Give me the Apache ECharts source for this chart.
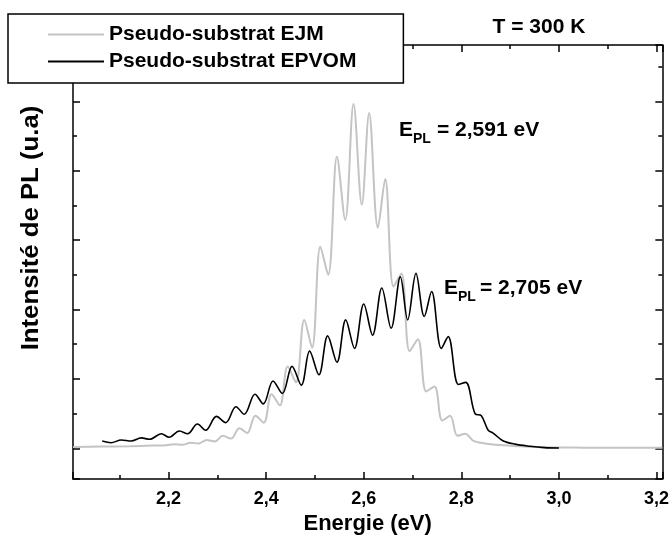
<!DOCTYPE html>
<html><head><meta charset="utf-8">
<script src="https://cdn.jsdelivr.net/npm/echarts@6/dist/echarts.min.js"></script>
<style>html,body{margin:0;padding:0;background:#fff}#c{width:672px;height:540px}</style>
</head><body><div id="c"></div>
<script>
const seriesNames = ['Pseudo-substrat EJM', 'Pseudo-substrat EPVOM'];
const ejmEnergy = [2.004, 2.06, 2.12, 2.17, 2.195, 2.211, 2.228, 2.245, 2.261, 2.278, 2.295, 2.311, 2.328, 2.345, 2.361, 2.378, 2.395, 2.411, 2.428, 2.444, 2.461, 2.478, 2.494, 2.511, 2.527, 2.545, 2.562, 2.579, 2.596, 2.611, 2.629, 2.644, 2.661, 2.677, 2.694, 2.711, 2.728, 2.745, 2.761, 2.777, 2.792, 2.808, 2.824, 2.84, 2.87, 2.92, 2.97, 3.05, 3.13, 3.212];
const ejmIntensity = [0.02, 0.025, 0.03, 0.04, 0.045, 0.06, 0.05, 0.08, 0.07, 0.12, 0.10, 0.18, 0.14, 0.29, 0.22, 0.47, 0.37, 0.78, 0.62, 1.18, 0.95, 1.85, 1.45, 2.905, 2.50, 4.20, 3.29, 4.96, 3.51, 4.83, 3.18, 3.88, 2.33, 2.52, 1.40, 1.57, 0.82, 0.89, 0.40, 0.47, 0.18, 0.21, 0.11, 0.08, 0.05, 0.03, 0.015, 0.01, 0.008, 0.008];
const epvomEnergy = [2.064, 2.082, 2.103, 2.123, 2.144, 2.161, 2.185, 2.201, 2.222, 2.239, 2.259, 2.276, 2.298, 2.317, 2.338, 2.355, 2.377, 2.394, 2.414, 2.433, 2.453, 2.472, 2.489, 2.508, 2.526, 2.545, 2.563, 2.581, 2.600, 2.618, 2.637, 2.656, 2.675, 2.690, 2.707, 2.724, 2.739, 2.759, 2.773, 2.794, 2.809, 2.828, 2.841, 2.855, 2.865, 2.885, 2.91, 2.94, 2.97, 3.0];
const epvomIntensity = [0.105, 0.08, 0.12, 0.105, 0.15, 0.13, 0.21, 0.16, 0.25, 0.21, 0.35, 0.26, 0.46, 0.37, 0.60, 0.49, 0.78, 0.64, 0.97, 0.79, 1.18, 0.91, 1.40, 1.06, 1.62, 1.24, 1.85, 1.44, 2.08, 1.63, 2.31, 1.73, 2.47, 1.85, 2.52, 1.90, 2.26, 1.44, 1.61, 0.92, 0.95, 0.50, 0.47, 0.26, 0.22, 0.11, 0.06, 0.03, 0.01, 0.005];
const xTickValues = [2.2, 2.4, 2.6, 2.8, 3.0, 3.2];
const xTickLabels = ['2,2', '2,4', '2,6', '2,8', '3,0', '3,2'];
const xRange = [2.004, 3.212];
const yRange = [-0.442, 5.811];

const FONT = '"Liberation Sans", Arial, sans-serif';
const pairs = (xs, ys) => xs.map((x, i) => [x, ys[i]]);
const fmt = v => { const i = xTickValues.findIndex(t => Math.abs(t - v) < 1e-6); return i >= 0 ? xTickLabels[i] : ''; };

function xAx(pos, split, len, line, label) {
  return {
    type: 'value', position: pos, min: xRange[0], max: xRange[1], splitNumber: split,
    axisLine: { show: line, onZero: false, lineStyle: { color: '#000', width: 1.5 } },
    axisTick: { show: true, inside: true, length: len, lineStyle: { color: '#000', width: 1.5 } },
    axisLabel: label ? { show: true, margin: 11, fontSize: 18, fontWeight: 'bold', color: '#000', fontFamily: FONT, formatter: fmt } : { show: false },
    splitLine: { show: false }
  };
}
function yAx(pos, split, len, line) {
  return {
    type: 'value', position: pos, min: yRange[0], max: yRange[1], splitNumber: split,
    axisLine: { show: line, onZero: false, lineStyle: { color: '#000', width: 1.5 } },
    axisTick: { show: true, inside: true, length: len, lineStyle: { color: '#000', width: 1.5 } },
    axisLabel: { show: false }, splitLine: { show: false }
  };
}
const xAxes = [xAx('bottom', 6, 7, true, true), xAx('bottom', 12, 4, false, false), xAx('top', 6, 7, true, false), xAx('top', 12, 4, false, false)];
xAxes[0].name = 'Energie (eV)';
xAxes[0].nameLocation = 'middle';
xAxes[0].nameGap = 33;
xAxes[0].nameTextStyle = { fontSize: 22, fontWeight: 'bold', color: '#000', fontFamily: FONT };

const chart = echarts.init(document.getElementById('c'), null, { renderer: 'canvas' });
chart.setOption({
  animation: false,
  backgroundColor: '#fff',
  grid: { left: 73, right: 7, top: 45, bottom: 61, containLabel: false },
  xAxis: xAxes,
  yAxis: [yAx('left', 6, 7, true), yAx('left', 12, 4, false), yAx('right', 6, 7, true), yAx('right', 12, 4, false)],
  legend: {
    data: seriesNames, orient: 'vertical', left: 8, top: 14,
    backgroundColor: '#fff', borderColor: '#000', borderWidth: 1.5, borderRadius: 0,
    padding: [10, 47, 11, 39], itemGap: 6, itemWidth: 56, itemHeight: 14, z: 10,
    itemStyle: { opacity: 0 },
    textStyle: { fontSize: 21, fontWeight: 'bold', color: '#000', fontFamily: FONT }
  },
  series: [
    { name: seriesNames[0], type: 'line', data: pairs(ejmEnergy, ejmIntensity), smooth: 0.35, symbol: 'none',
      lineStyle: { color: '#c4c4c4', width: 2 }, itemStyle: { color: '#c4c4c4' }, z: 2 },
    { name: seriesNames[1], type: 'line', data: pairs(epvomEnergy, epvomIntensity), smooth: 0.35, symbol: 'none',
      lineStyle: { color: '#000', width: 1.6 }, itemStyle: { color: '#000' }, z: 3 }
  ],
  graphic: [
    { type: 'text', x: 32, y: 228, rotation: Math.PI / 2, scaleX: 1.12,
      style: { text: 'Intensité de PL (u.a)', fontSize: 23, fontWeight: 'bold', fill: '#000', fontFamily: FONT, align: 'center', verticalAlign: 'middle' } },
    { type: 'text', x: 539, y: 27, style: { text: 'T = 300 K', fontSize: 21, fontWeight: 'bold', fill: '#000', fontFamily: FONT, align: 'center', verticalAlign: 'middle' } },
    { type: 'group', x: 399, y: 130, children: [
      { type: 'text', x: 0, y: 0, style: { text: 'E', fontSize: 21, fontWeight: 'bold', fill: '#000', fontFamily: FONT, verticalAlign: 'middle' } },
      { type: 'text', x: 14, y: 9, style: { text: 'PL', fontSize: 14, fontWeight: 'bold', fill: '#000', fontFamily: FONT, verticalAlign: 'middle' } },
      { type: 'text', x: 38, y: 0, style: { text: '= 2,591 eV', fontSize: 21, fontWeight: 'bold', fill: '#000', fontFamily: FONT, verticalAlign: 'middle' } }
    ] },
    { type: 'group', x: 444, y: 288, children: [
      { type: 'text', x: 0, y: 0, style: { text: 'E', fontSize: 21, fontWeight: 'bold', fill: '#000', fontFamily: FONT, verticalAlign: 'middle' } },
      { type: 'text', x: 14, y: 9, style: { text: 'PL', fontSize: 14, fontWeight: 'bold', fill: '#000', fontFamily: FONT, verticalAlign: 'middle' } },
      { type: 'text', x: 36, y: 0, style: { text: '= 2,705 eV', fontSize: 21, fontWeight: 'bold', fill: '#000', fontFamily: FONT, verticalAlign: 'middle' } }
    ] }
  ]
});
</script></body></html>
